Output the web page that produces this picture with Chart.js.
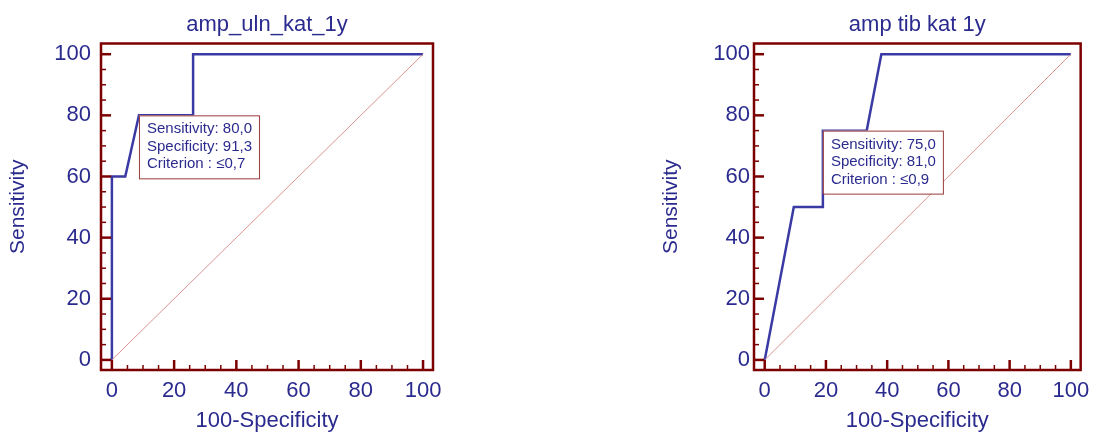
<!DOCTYPE html>
<html>
<head>
<meta charset="utf-8">
<script src="https://cdn.jsdelivr.net/npm/chart.js@4/dist/chart.umd.min.js"></script>
<style>
  html, body { margin: 0; padding: 0; background: #fff; }
  #wrap { position: relative; width: 1097px; height: 435px; }
  .cell { position: absolute; top: 0; height: 435px; }
</style>
</head>
<body>
<div id="wrap">
  <div class="cell" style="left:0;width:450px"><canvas id="roc1" width="450" height="435"></canvas></div>
  <div class="cell" style="left:653px;width:444px"><canvas id="roc2" width="444" height="435"></canvas></div>
</div>
<script>
// ROC curve 1
const ulnTitle = "amp_uln_kat_1y";
const ulnX = [0, 0, 4.3, 8.7, 26.1, 26.1, 100];
const ulnY = [0, 60, 60, 80, 80, 100, 100];
const ulnCut = [8.7, 80];
const ulnInfo = ["Sensitivity: 80,0", "Specificity: 91,3", "Criterion : \u22640,7"];

// ROC curve 2
const tibTitle = "amp tib kat 1y";
const tibX = [0, 9.5, 19.0, 19.0, 33.3, 38.1, 100];
const tibY = [0, 50, 50, 75, 75, 100, 100];
const tibCut = [19.0, 75];
const tibInfo = ["Sensitivity: 75,0", "Specificity: 81,0", "Criterion : \u22640,9"];

// reference line + axes
const diagX = [0, 100];
const diagY = [0, 100];
const tickVals = [0, 20, 40, 60, 80, 100];
const minorVals = [0, 5, 10, 15, 20, 25, 30, 35, 40, 45, 50, 55, 60, 65, 70, 75, 80, 85, 90, 95, 100];
const xLabel = "100-Specificity";
const yLabel = "Sensitivity";

const BLUE = "#2b2b8f";
const LINE = "#3a3aa5";
const MAROON = "#7d0000";
const FONT = "'Liberation Sans', Arial, sans-serif";

const pts = (xs, ys) => xs.map((v, i) => ({ x: v, y: ys[i] }));

// frame, inward tick marks and the criterion box
const rocDeco = {
  id: "rocDeco",
  afterDatasetsDraw(chart, args, opts) {
    const { ctx, chartArea: a, scales: { x, y } } = chart;
    ctx.save();
    // criterion box
    const bx = x.getPixelForValue(opts.cut[0]);
    const by = y.getPixelForValue(opts.cut[1]);
    ctx.font = "15px " + FONT;
    let w = 0;
    opts.info.forEach(t => { w = Math.max(w, ctx.measureText(t).width); });
    const bw = Math.round(w + 15), bh = 63;
    ctx.fillStyle = "#fff";
    ctx.fillRect(bx, by, bw, bh);
    ctx.strokeStyle = "#9a3a3a";
    ctx.lineWidth = 1;
    ctx.strokeRect(bx + 0.5, by + 0.5, bw, bh);
    ctx.fillStyle = BLUE;
    ctx.textBaseline = "middle";
    ctx.textAlign = "left";
    opts.info.forEach((t, i) => ctx.fillText(t, bx + 8, by + 14 + i * 17.5));

    // ticks
    ctx.strokeStyle = MAROON;
    minorVals.forEach(v => {
      const major = v % 20 === 0;
      const len = major ? 10 : 5;
      ctx.lineWidth = major ? 2.5 : 1.5;
      const px = x.getPixelForValue(v);
      ctx.beginPath();
      ctx.moveTo(px, a.bottom);
      ctx.lineTo(px, a.bottom - len);
      ctx.stroke();
      const py = y.getPixelForValue(v);
      ctx.beginPath();
      ctx.moveTo(a.left, py);
      ctx.lineTo(a.left + len, py);
      ctx.stroke();
    });
    // frame
    ctx.lineWidth = 2.5;
    ctx.strokeRect(a.left, a.top, a.right - a.left, a.bottom - a.top);
    ctx.restore();
  }
};

function makeRoc(id, title, xs, ys, cut, info, canvasW, labelPad) {
  return new Chart(document.getElementById(id), {
    type: "scatter",
    data: {
      datasets: [
        {
          data: pts(diagX, diagY),
          showLine: true,
          borderColor: "rgba(215,135,135,0.9)",
          borderWidth: 1,
          pointRadius: 0
        },
        {
          data: pts(xs, ys),
          showLine: true,
          borderColor: LINE,
          borderWidth: 2.5,
          pointRadius: 0,
          tension: 0
        }
      ]
    },
    options: {
      responsive: false,
      animation: false,
      layout: { padding: { left: 0, right: canvasW - 433, top: 0, bottom: 0 } },
      plugins: {
        legend: { display: false },
        tooltip: { enabled: false },
        title: {
          display: true,
          text: title,
          fullSize: false,
          color: BLUE,
          font: { family: FONT, size: 22, weight: "normal" },
          padding: { top: 11.5, bottom: 5.6 }
        },
        rocDeco: { cut: cut, info: info }
      },
      scales: {
        x: {
          type: "linear",
          min: -3.5,
          max: 103.2,
          afterBuildTicks: s => { s.ticks = tickVals.map(v => ({ value: v })); },
          afterFit: s => { s.height = 65; },
          grid: { display: false, drawTicks: false },
          border: { display: false },
          ticks: { color: BLUE, padding: 7.3, font: { family: FONT, size: 22 } },
          title: {
            display: true,
            text: xLabel,
            color: BLUE,
            font: { family: FONT, size: 22 },
            padding: { top: 0, bottom: 0.8 }
          }
        },
        y: {
          type: "linear",
          min: -3.3,
          max: 103.5,
          afterBuildTicks: s => { s.ticks = tickVals.map(v => ({ value: v })); },
          afterFit: s => { s.width = 101; },
          grid: { display: false, drawTicks: false },
          border: { display: false },
          ticks: { color: BLUE, padding: labelPad, font: { family: FONT, size: 22 } },
          title: {
            display: true,
            text: yLabel,
            color: BLUE,
            font: { family: FONT, size: 21 },
            padding: { top: 5.4, bottom: 0 }
          }
        }
      }
    },
    plugins: [rocDeco]
  });
}

makeRoc("roc1", ulnTitle, ulnX, ulnY, ulnCut, ulnInfo, 450, 10);
makeRoc("roc2", tibTitle, tibX, tibY, tibCut, tibInfo, 444, 4);
</script>
</body>
</html>
